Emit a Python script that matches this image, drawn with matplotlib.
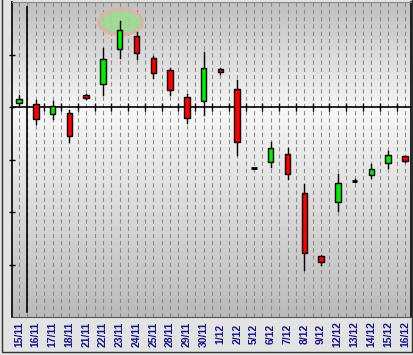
#!/usr/bin/env python3
import numpy as np
import matplotlib
matplotlib.use("Agg")
import matplotlib.pyplot as plt
from matplotlib.patches import Rectangle, Ellipse
from matplotlib.lines import Line2D

plt.rcParams["lines.scale_dashes"] = False

# dates and OHLC values (arbitrary units)
dates = ["15/11", "16/11", "17/11", "18/11", "21/11", "22/11", "23/11", "24/11",
         "25/11", "28/11", "29/11", "30/11", "1/12", "2/12", "5/12", "6/12",
         "7/12", "8/12", "9/12", "12/12", "13/12", "14/12", "15/12", "16/12"]
opens = [0.08, 0.06, -0.13, -0.11, 0.23, 0.44, 1.10, 1.36, 0.93, 0.70, 0.19, 0.11,
         0.72, 0.34, -1.17, -1.04, -0.90, -1.64, -2.83, -1.81, -1.40, -1.30, -1.07, -0.93]
highs = [0.22, 0.13, 0.11, -0.05, 0.25, 1.12, 1.64, 1.42, 0.98, 0.75, 0.25, 1.04,
         0.74, 0.51, -1.16, -0.66, -0.79, -1.46, -2.81, -1.27, -1.37, -1.09, -0.83, -0.93]
lows = [0.01, -0.32, -0.22, -0.67, 0.16, 0.22, 0.94, 0.92, 0.56, 0.22, -0.30, -0.15,
        0.62, -0.92, -1.19, -1.15, -1.37, -3.10, -3.00, -1.99, -1.43, -1.36, -1.16, -1.04]
closes = [0.16, -0.23, 0.02, -0.56, 0.18, 0.91, 1.47, 1.03, 0.65, 0.32, -0.21, 0.74,
          0.67, -0.66, -1.17, -0.78, -1.27, -2.79, -2.96, -1.45, -1.40, -1.18, -0.91, -1.02]

# highlighted spot (green halo around the 23/11 top)
halo_x, halo_y = 6.06, 1.62

W, H = 413, 355
fig = plt.figure(figsize=(W / 100, H / 100), dpi=100, facecolor="#e3e3e3")
ax = fig.add_axes([11.5 / W, (H - 317) / H, (411 - 11.5) / W, (317 - 2) / H])

xmin, xmax, ymin, ymax = -0.45, 23.36, -4.0, 2.0
ax.set_xlim(xmin, xmax)
ax.set_ylim(ymin, ymax)

# background gradient: light near zero, grey toward top/bottom
yy = np.linspace(ymax, ymin, 400)
shade = np.where(yy > 0, 0.96 - 0.21 * yy / ymax, 0.97 - 0.24 * yy / ymin)
grad = np.repeat(shade[:, None], 2, axis=1)
ax.imshow(grad, cmap="gray", vmin=0, vmax=1, aspect="auto",
          extent=(xmin, xmax, ymin, ymax), zorder=0, interpolation="bilinear")

# dashed verticals at every candle and half step
for k in range(0, 48):
    ax.axvline(k * 0.5, color="#8c8c8c", lw=0.8, ls=(0, (3, 2.2)), zorder=1)

# zero line with tick marks between candles
ax.axhline(0, color="black", lw=1.2, zorder=2)
ax.plot(np.arange(1, len(dates)) + 0.5, np.zeros(len(dates) - 1), ls="none",
        marker="|", ms=6, mew=1.0, color="black", zorder=2)

# long vertical marker line
ax.plot([0.5, 0.5], [1.91, -3.9], color="black", lw=1.2, zorder=2)

# halo
ax.add_patch(Ellipse((halo_x, halo_y), 2.6, 0.48, facecolor="#9edb92",
                     edgecolor="#dcb3a3", lw=2.5, alpha=0.9, zorder=2))

bw = 0.33
for i, (o, h, l, c) in enumerate(zip(opens, highs, lows, closes)):
    col = "#00ee00" if c > o else "#ff0000"
    ax.plot([i, i], [l, h], color="black", lw=1.0, zorder=3)
    if abs(c - o) < 1e-9:
        ax.plot([i - bw / 2, i + bw / 2], [o, o], color="black", lw=2.0,
                solid_capstyle="butt", zorder=4)
    else:
        ax.add_patch(Rectangle((i - bw / 2, min(o, c)), bw, abs(c - o),
                               facecolor=col, edgecolor="black", lw=1.0, zorder=4))

# axes frame
ax.spines["top"].set_color("#8a8a8a")
ax.spines["bottom"].set_color("#555555")
ax.spines["left"].set_linewidth(1.2)
ax.spines["right"].set_linewidth(1.2)
ax.set_xticks([])
ax.set_yticks(np.arange(-3, 2))
ax.set_yticklabels([])
ax.tick_params(axis="y", direction="inout", length=4, width=1)

# date labels
trans = ax.get_xaxis_transform()
for i, d in enumerate(dates):
    ax.text(i, -17 / 315, d, transform=trans, rotation=90, ha="center", va="center",
            fontsize=7.5, fontweight="bold", family="Liberation Sans", color="#14148c")

# outer border (left, bottom, right)
fig.add_artist(Line2D([1.5 / W, 1.5 / W, 411.5 / W, 411.5 / W],
                      [1, 3.5 / H, 3.5 / H, 1], transform=fig.transFigure,
                      color="#333333", lw=1.0))

fig.savefig("out.png", dpi=100, facecolor=fig.get_facecolor())
